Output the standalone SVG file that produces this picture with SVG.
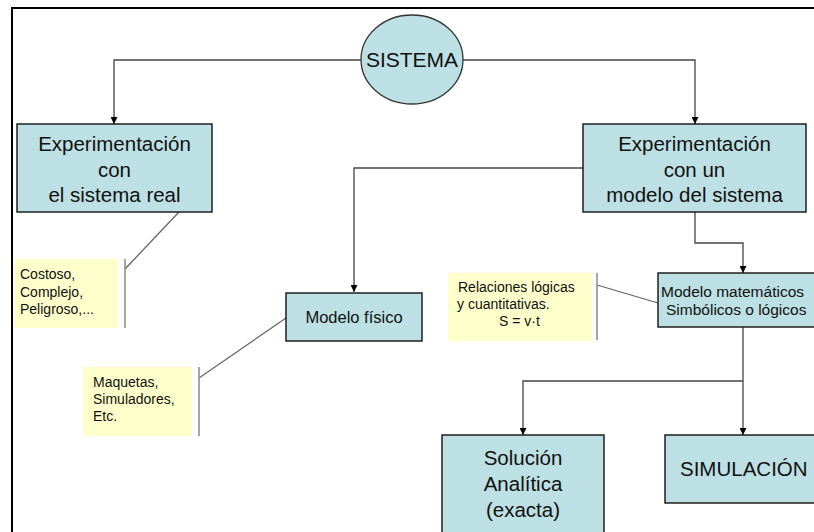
<svg xmlns="http://www.w3.org/2000/svg" width="814" height="532" viewBox="0 0 814 532">
<defs>
<marker id="arr" viewBox="0 0 10 10" refX="10" refY="5" markerWidth="7" markerHeight="7" markerUnits="userSpaceOnUse" orient="auto">
<path d="M0,0 L10,5 L0,10 Z" fill="#000"/>
</marker>
<style>
.box{fill:#BCE0E3;stroke:#111;stroke-width:1.4}
.note{fill:#FFFFCC;stroke:none}
.t{font-family:"Liberation Sans",Arial,sans-serif;fill:#111}
.big{font-size:20.5px;text-anchor:middle}
.med{font-size:16.5px}
.sm{font-size:14px}
.con{fill:none;stroke:#444;stroke-width:1.3}
.ann{fill:none;stroke:#666;stroke-width:1.3}
.bar{stroke:#888;stroke-width:1.5}
</style>
</defs>
<rect x="0" y="0" width="814" height="532" fill="#fff"/>
<path d="M12,532 L12,8 L814,8" fill="none" stroke="#000" stroke-width="2"/>

<g id="connectors">
<path class="con" d="M361,60 L114,60 L114,124" marker-end="url(#arr)"/>
<path class="con" d="M463,60 L695,60 L695,124" marker-end="url(#arr)"/>
<path class="con" d="M583,168 L354,168 L354,292" marker-end="url(#arr)" stroke="#777"/>
<path class="con" d="M695,212 L695,243 L743,243 L743,273" marker-end="url(#arr)"/>
<path class="con" d="M743,327 L743,435" marker-end="url(#arr)"/>
<path class="con" d="M743,381 L523,381 L523,435" marker-end="url(#arr)"/>
<path class="ann" d="M179,212 L125,269"/>
<path class="ann" d="M286,318 L199,378"/>
<path class="ann" d="M597,285 L658,303"/>
</g>

<g id="sistema">
<ellipse cx="412" cy="59.5" rx="51" ry="44.5" fill="#BCE0E3" stroke="#333" stroke-width="1.3"/>
<text class="t" x="412" y="67" font-size="21" text-anchor="middle">SISTEMA</text>
</g>

<g id="exp-real">
<rect class="box" x="17" y="124" width="195" height="88"/>
<text class="t big" x="114.5" y="151">Experimentación</text>
<text class="t big" x="114.5" y="177">con</text>
<text class="t big" x="114.5" y="202">el sistema real</text>
</g>

<g id="exp-modelo">
<rect class="box" x="583" y="124" width="223" height="88"/>
<text class="t big" x="694.5" y="151">Experimentación</text>
<text class="t big" x="694.5" y="177">con un</text>
<text class="t big" x="694.5" y="202">modelo del sistema</text>
</g>

<g id="note-real">
<rect class="note" x="14" y="259" width="104" height="69"/>
<line class="bar" x1="125" y1="259" x2="125" y2="328"/>
<text class="t sm" x="20" y="279">Costoso,</text>
<text class="t sm" x="20" y="297">Complejo,</text>
<text class="t sm" x="20" y="314">Peligroso,...</text>
</g>

<g id="modelo-fisico">
<rect class="box" x="286" y="293" width="136" height="48"/>
<text class="t med" x="354" y="323" text-anchor="middle">Modelo físico</text>
</g>

<g id="note-fisico">
<rect class="note" x="83" y="367" width="109" height="69"/>
<line class="bar" x1="199" y1="367" x2="199" y2="436"/>
<text class="t sm" x="93" y="387">Maquetas,</text>
<text class="t sm" x="93" y="404">Simuladores,</text>
<text class="t sm" x="93" y="421">Etc.</text>
</g>

<g id="note-math">
<rect class="note" x="448" y="273" width="144" height="68"/>
<line class="bar" x1="597" y1="273" x2="597" y2="340"/>
<text class="t sm" x="458" y="292">Relaciones lógicas</text>
<text class="t sm" x="457" y="309">y cuantitativas.</text>
<text class="t sm" x="499" y="326">S = v·t</text>
</g>

<g id="modelo-math">
<rect class="box" x="658" y="273" width="170" height="54"/>
<text class="t" x="661" y="297" font-size="15.5">Modelo matemáticos</text>
<text class="t" x="666" y="315" font-size="15.5">Simbólicos o lógicos</text>
</g>

<g id="solucion">
<rect class="box" x="442" y="435" width="162" height="110"/>
<text class="t big" x="523" y="465">Solución</text>
<text class="t big" x="523" y="491">Analítica</text>
<text class="t big" x="523" y="517">(exacta)</text>
</g>

<g id="simulacion">
<rect class="box" x="665" y="435" width="160" height="68"/>
<text class="t" x="680" y="476" font-size="20.5">SIMULACIÓN</text>
</g>
</svg>
